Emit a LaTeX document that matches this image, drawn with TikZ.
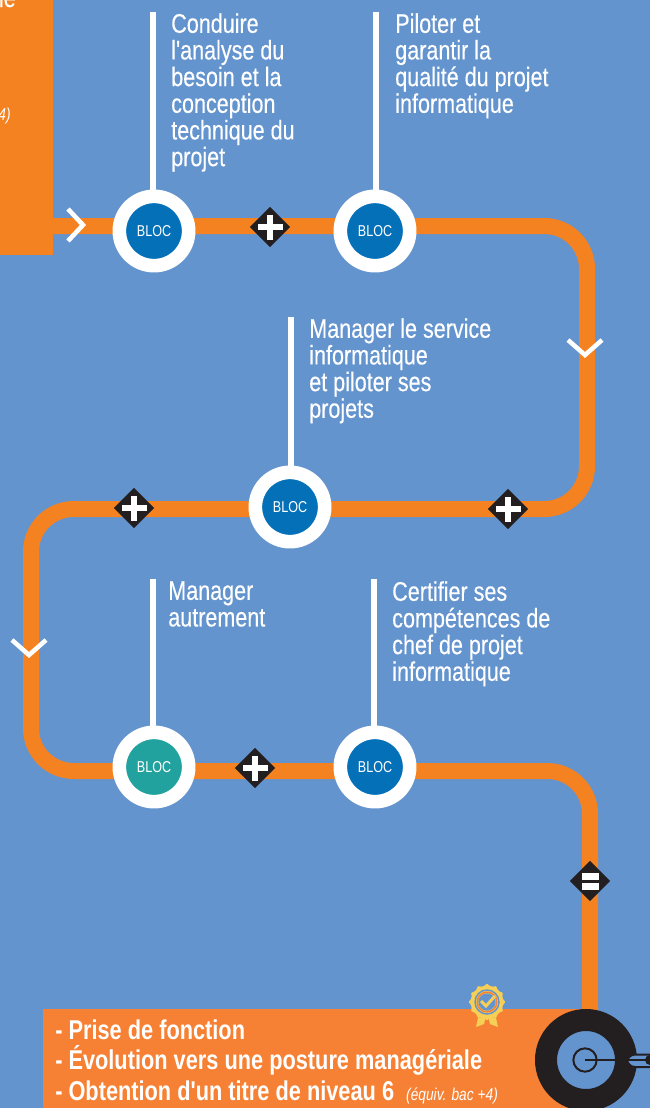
\documentclass[tikz,border=0pt]{standalone}
\usepackage{fontspec}
\newfontfamily\lblf[FakeStretch=0.80,FakeBold=0.25]{Liberation Sans}
\newfontfamily\basef[FakeStretch=0.80]{Liberation Sans}
\usetikzlibrary{shapes.geometric}
\definecolor{bgblue}{HTML}{6494CE}
\definecolor{pathor}{HTML}{F58220}
\definecolor{boxor}{HTML}{F68134}
\definecolor{blocblue}{HTML}{0470B8}
\definecolor{bloctea}{HTML}{22A29E}
\definecolor{ink}{HTML}{231F20}
\definecolor{medal}{HTML}{F5CF56}
\tikzset{
 x=0.75pt,y=-0.75pt,
 route/.style={draw=pathor,line width=12pt},
 stem/.style={draw=white,line width=3.9pt},
 chev/.style={draw=white,line width=3.4pt},
 blocnode/.style={circle,draw=white,line width=10.2pt,fill=#1,minimum size=52pt,inner sep=0pt,text=white,font=\basef\fontsize{11.8}{13}\selectfont},
 opnode/.style={diamond,fill=ink,minimum size=30.5pt,inner sep=0pt},
 label/.style={anchor=north west,align=left,text=white,inner sep=0pt,font=\lblf\fontsize{20.2}{20}\selectfont},
 endline/.style={anchor=base west,text=white,inner sep=0pt,font=\basef\fontsize{20.4}{21}\selectfont\bfseries},
}
\begin{document}
\begin{tikzpicture}
\useasboundingbox (0,0) rectangle (650,1108);
\fill[bgblue] (0,0) rectangle (650,1108);
\clip (0,0) rectangle (650,1108);
% boxes
\node[fill=pathor,draw=none,anchor=north west,inner sep=0pt,minimum width=39.75pt,minimum height=191.25pt] (startbox) at (0,0) {};
\node[fill=boxor,draw=none,anchor=north west,inner sep=0pt,minimum width=410pt,minimum height=74.25pt] (endbox) at (43,1009) {};
% route
\coordinate (r0) at (53,226);
\coordinate (c1) at (587,226);
\coordinate (c2) at (587,509);
\coordinate (c3) at (31,509);
\coordinate (c4) at (31,771);
\coordinate (c5) at (590,771);
\coordinate (r1) at (590,1015);
\draw[route,rounded corners=32pt] (r0) -- (c1) -- (c2) -- (c3) -- (c4) -- (c5) -- (r1);
% chevrons
\coordinate (ch1a) at (68,209); \coordinate (ch1b) at (83,225); \coordinate (ch1c) at (68,241);
\draw[chev] (ch1a) -- (ch1b) -- (ch1c);
\coordinate (ch2a) at (568,340); \coordinate (ch2b) at (585,355); \coordinate (ch2c) at (602,340);
\draw[chev] (ch2a) -- (ch2b) -- (ch2c);
\coordinate (ch3a) at (12,640); \coordinate (ch3b) at (29,655); \coordinate (ch3c) at (46,640);
\draw[chev] (ch3a) -- (ch3b) -- (ch3c);
% blocs
\node[blocnode=blocblue] (b1) at (154,231) {BLOC};
\node[blocnode=blocblue] (b2) at (375,231) {BLOC};
\node[blocnode=blocblue] (b3) at (290,507) {BLOC};
\node[blocnode=bloctea] (b4) at (154,767) {BLOC};
\node[blocnode=blocblue] (b5) at (375,767) {BLOC};
% stems
\coordinate (s1) at (153,12); \coordinate (s2) at (376,12); \coordinate (s3) at (291,317);
\coordinate (s4) at (153,579); \coordinate (s5) at (374,579);
\draw[stem] (s1) -- (s1 |- b1.north);
\draw[stem] (s2) -- (s2 |- b2.north);
\draw[stem] (s3) -- (s3 |- b3.north);
\draw[stem] (s4) -- (s4 |- b4.north);
\draw[stem] (s5) -- (s5 |- b5.north);
% labels
\node[label] (t1) at (171,13) {Conduire\\l'analyse du\\besoin et la\\conception\\technique du\\projet};
\node[label] (t2) at (395,13) {Piloter et\\garantir la\\qualité du projet\\informatique};
\node[label] (t3) at (309,318) {Manager le service\\informatique\\et piloter ses\\projets};
\node[label] (t4) at (168,581) {Manager\\autrement};
\node[label] (t5) at (392,581) {Certifier ses\\compétences de\\chef de projet\\informatique};
% operators
\foreach \n/\x/\y in {o1/270/227,o2/508/509,o3/134/508,o4/255/768}{
 \node[opnode] (\n) at (\x,\y) {};
 \fill[white] (\x-12.5,\y-3) rectangle (\x+12.5,\y+3);
 \fill[white] (\x-3,\y-12.5) rectangle (\x+3,\y+12.5);
}
\node[opnode] (o5) at (590,881) {};
\fill[white] (581.5,873) rectangle (599,880);
\fill[white] (581.5,883) rectangle (599,890);
% target
\node[circle,draw=ink,line width=16.5pt,minimum size=60pt,inner sep=0pt,fill=bgblue] (target) at (586,1060) {};
\node[circle,draw=ink,line width=1.5pt,minimum size=17.5pt,inner sep=0pt] (bull) at (585,1060) {};
\coordinate (arrowend) at (660,1060);
\draw[draw=ink,line width=1.5pt,fill=bgblue,rounded corners=6pt] (660,1054.5) -- (627,1054.5) -- (627,1067) -- (660,1067);
\draw[ink,line width=1.5pt] (bull.center) -- (arrowend);
\fill[ink] (650,1060) circle (5);
% medal
\fill[medal] (478,1018) -- (476,1027) -- (484,1024) -- (486,1016) -- cycle;
\fill[medal] (496,1018) -- (498,1027) -- (490,1024) -- (488,1016) -- cycle;
\fill[medal,rounded corners=0.6pt] plot[domain=0:350,samples=36] ({487+(17+1.4*cos(12*\x))*cos(\x)},{1002+(17+1.4*cos(12*\x))*sin(\x)}) -- cycle;
\draw[bgblue,line width=1.1pt] (487,1002) circle (12);
\draw[boxor,line width=1.1pt] (487,1002) circle (9.8);
\fill[bgblue] (487,1002) circle (8.6);
\draw[medal,line width=2.2pt] (481,1001) -- (486,1006) -- (495,996);
% final text
\node[endline] (e1) at (55,1039) {- Prise de fonction};
\node[endline] (e2) at (55,1069) {- Évolution vers une posture managériale};
\node[endline] (e3) at (55,1100) {- Obtention d'un titre de niveau 6\ \ {\fontsize{12.9}{14}\selectfont\mdseries\itshape (équiv. bac +4)}};
% cut-off text
\node[anchor=base east,text=white,inner sep=0pt,font=\lblf\fontsize{20.2}{20}\selectfont] (cut1) at (16,7) {le};
\node[anchor=base east,text=white,inner sep=0pt,font=\basef\fontsize{12.9}{14}\selectfont\itshape] (cut2) at (11,120) {4)};
\end{tikzpicture}
\end{document}
